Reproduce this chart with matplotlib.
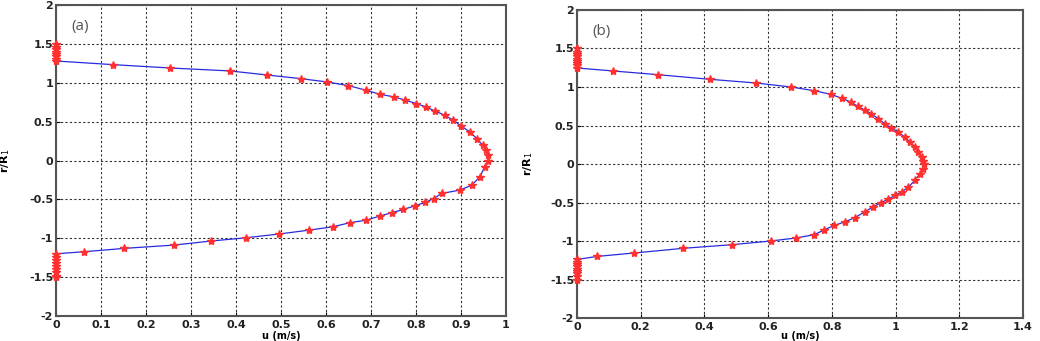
import matplotlib
matplotlib.use("Agg")
import matplotlib.pyplot as plt

# panel (a): velocity profile points
ua = [0.0, 0.127, 0.254, 0.387, 0.469, 0.544, 0.603, 0.650, 0.689, 0.720, 0.751,
      0.775, 0.801, 0.822, 0.842, 0.864, 0.883, 0.901, 0.920, 0.935, 0.948, 0.956,
      0.959, 0.961, 0.953, 0.942, 0.924, 0.898, 0.857, 0.839, 0.820, 0.798, 0.772,
      0.746, 0.719, 0.690, 0.653, 0.616, 0.563, 0.495, 0.422, 0.344, 0.262, 0.152,
      0.063, 0.0]
ra = [1.28, 1.233, 1.19, 1.152, 1.10, 1.053, 1.01, 0.963, 0.904, 0.852, 0.818,
      0.779, 0.732, 0.69, 0.638, 0.582, 0.518, 0.441, 0.368, 0.283, 0.197, 0.133,
      0.069, 0.0, -0.08, -0.21, -0.317, -0.38, -0.424, -0.49, -0.54, -0.582, -0.63,
      -0.672, -0.715, -0.767, -0.80, -0.852, -0.895, -0.946, -0.994, -1.036, -1.088,
      -1.13, -1.173, -1.20]
wall_a = [1.28, 1.31, 1.34, 1.37, 1.40, 1.43, 1.46, 1.50,
          -1.20, -1.24, -1.28, -1.32, -1.36, -1.40, -1.44, -1.48, -1.50]

# panel (b)
ub = [0.0, 0.114, 0.254, 0.417, 0.562, 0.672, 0.745, 0.796, 0.832, 0.859, 0.882,
      0.905, 0.924, 0.945, 0.966, 0.987, 1.008, 1.029, 1.045, 1.061, 1.072, 1.082,
      1.087, 1.089, 1.087, 1.077, 1.061, 1.040, 1.019, 0.998, 0.977, 0.954, 0.929,
      0.903, 0.872, 0.840, 0.808, 0.777, 0.745, 0.687, 0.608, 0.486, 0.333, 0.179,
      0.063, 0.0]
rb = [1.247, 1.208, 1.16, 1.10, 1.052, 1.0, 0.952, 0.905, 0.853, 0.805, 0.749,
      0.697, 0.654, 0.589, 0.524, 0.468, 0.416, 0.351, 0.286, 0.221, 0.156, 0.091,
      0.04, 0.0, -0.06, -0.126, -0.212, -0.30, -0.364, -0.407, -0.459, -0.502, -0.558,
      -0.623, -0.697, -0.753, -0.797, -0.853, -0.918, -0.961, -1.0, -1.048, -1.095,
      -1.156, -1.20, -1.24]
wall_b = [1.25, 1.28, 1.31, 1.34, 1.37, 1.40, 1.43, 1.46, 1.50,
          -1.24, -1.27, -1.30, -1.33, -1.36, -1.39, -1.42, -1.45, -1.50]

xticks_a = [0, 0.1, 0.2, 0.3, 0.4, 0.5, 0.6, 0.7, 0.8, 0.9, 1]
xlabels_a = ["0", "0.1", "0.2", "0.3", "0.4", "0.5", "0.6", "0.7", "0.8", "0.9", "1"]
xticks_b = [0, 0.2, 0.4, 0.6, 0.8, 1, 1.2, 1.4]
xlabels_b = ["0", "0.2", "0.4", "0.6", "0.8", "1", "1.2", "1.4"]
yticks = [-2, -1.5, -1, -0.5, 0, 0.5, 1, 1.5, 2]
ylabels = ["-2", "-1.5", "-1", "-0.5", "0", "0.5", "1", "1.5", "2"]

fig = plt.figure(figsize=(10.4, 3.41), dpi=100)
axa = fig.add_axes([0.0538, 0.0733, 0.4327, 0.912])
axb = fig.add_axes([0.5548, 0.0674, 0.4288, 0.9033])


def draw(ax, u, r, wall, xmax, xt, xl, tag, ylab_x, xlab_y):
    ax.plot(u, r, color="#2a2ae0", lw=0.9, zorder=3)
    ax.plot(u[1:-1], r[1:-1], ls="none", marker="*", ms=6, color="#ff3030",
            mec="#ff3030", zorder=4)
    ax.plot([0] * len(wall), wall, ls="none", marker="*", ms=6, color="#ff3030",
            mec="#ff3030", zorder=4, clip_on=False)
    ax.set_xlim(0, xmax)
    ax.set_ylim(-2, 2)
    ax.set_xticks(xt)
    ax.set_xticklabels(xl, fontsize=8, fontweight="bold", color="#222222")
    ax.set_yticks(yticks)
    ax.set_yticklabels(ylabels, fontsize=8, fontweight="bold", color="#222222")
    ax.grid(True, ls=(0, (2, 2)), color="#333333", lw=0.8)
    ax.tick_params(axis="y", length=3, width=0.8, pad=2, direction="in")
    ax.tick_params(axis="x", length=3, width=0.8, pad=3, direction="in")
    for s in ax.spines.values():
        s.set_color("#555555")
        s.set_linewidth(1.5)
    ax.set_ylabel("r/R$_1$", fontsize=8, fontweight="bold")
    ax.yaxis.set_label_coords(ylab_x, 0.5)
    ax.set_xlabel("u (m/s)", fontsize=7, fontweight="bold")
    ax.xaxis.set_label_coords(0.5, xlab_y)
    ax.text(0.035, 0.93, tag, transform=ax.transAxes, fontsize=11,
            color="#555555", family="Open Sans", va="center")


draw(axa, ua, ra, wall_a, 1, xticks_a, xlabels_a, "(a)", -0.098, -0.048)
draw(axb, ub, rb, wall_b, 1.4, xticks_b, xlabels_b, "(b)", -0.094, -0.042)

fig.savefig("out.png", dpi=100)
